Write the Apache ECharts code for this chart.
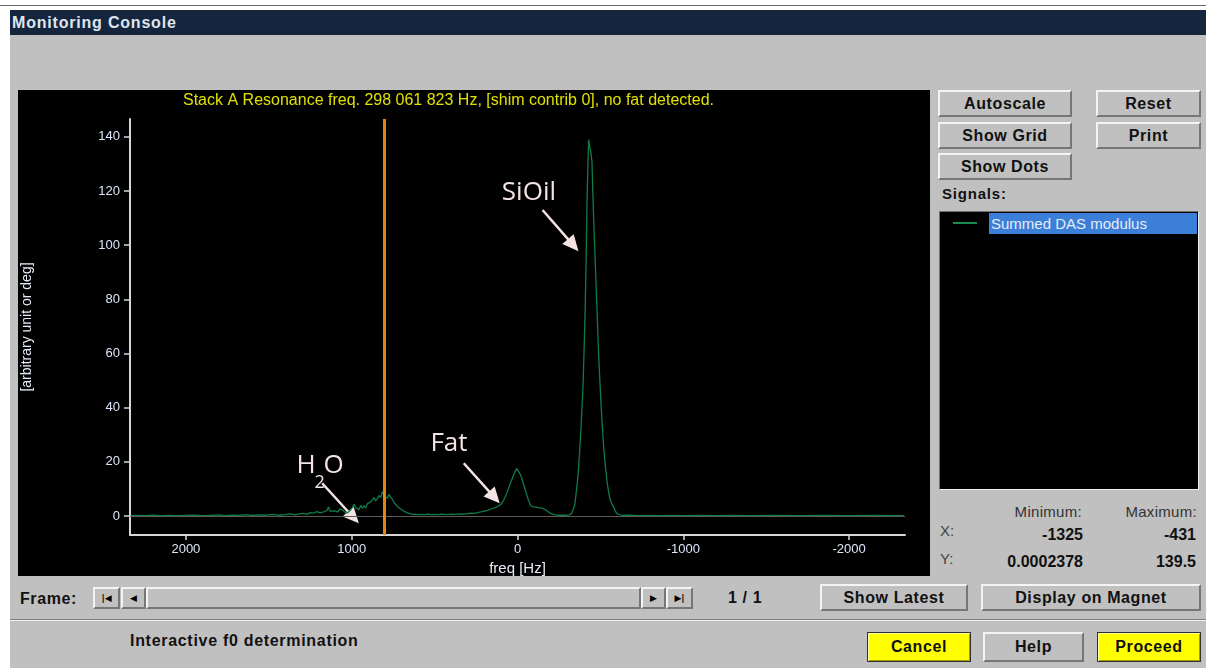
<!DOCTYPE html>
<html><head><meta charset="utf-8">
<script src="https://cdn.jsdelivr.net/npm/echarts@6/dist/echarts.min.js"></script>
<style>
html,body{margin:0;padding:0;}
body{width:1206px;height:668px;position:relative;overflow:hidden;background:#fff;font-family:"Liberation Sans",Arial,sans-serif;}
.abs{position:absolute;}
.btn{position:absolute;box-sizing:border-box;background:#c0c0c0;border:2px solid;border-color:#f4f4f4 #767676 #767676 #f4f4f4;font-weight:bold;font-size:16px;color:#111;letter-spacing:0.6px;display:flex;align-items:center;justify-content:center;}
.yellow{background:#ffff00;border:1px solid #303030;box-shadow:inset 1px 1px 0 #ffffa0, inset -1px -1px 0 #a0a000;}
.lbl{position:absolute;font-size:15px;color:#111;white-space:nowrap;}
.sb{position:absolute;top:587px;height:22px;box-sizing:border-box;background:#c0c0c0;border:2px solid;border-color:#f4f4f4 #767676 #767676 #f4f4f4;font-size:9px;color:#000;display:flex;align-items:center;justify-content:center;font-family:"DejaVu Sans",sans-serif;}
</style></head>
<body>
<div class="abs" style="left:0;top:5px;width:1206px;height:1px;background:#6a6a6a"></div>
<div class="abs" style="left:10px;top:10px;width:1196px;height:25px;background:#15253e;color:#dfe5ee;font-weight:bold;font-size:16px;line-height:25px;letter-spacing:0.8px;"><span style="margin-left:2px">Monitoring Console</span></div>
<div class="abs" style="left:10px;top:35px;width:1196px;height:633px;background:#c0c0c0"></div>

<div id="plot" class="abs" style="left:18px;top:90px;width:912px;height:486px;background:#000"></div>

<div class="btn" style="left:938px;top:90px;width:134px;height:27px">Autoscale</div>
<div class="btn" style="left:1096px;top:90px;width:105px;height:27px">Reset</div>
<div class="btn" style="left:938px;top:122px;width:134px;height:27px">Show Grid</div>
<div class="btn" style="left:1096px;top:122px;width:105px;height:27px">Print</div>
<div class="btn" style="left:938px;top:153px;width:134px;height:27px">Show Dots</div>
<div class="lbl" style="left:942px;top:185px;font-weight:bold;letter-spacing:0.8px">Signals:</div>
<div class="abs" style="left:939px;top:211px;width:260px;height:279px;background:#000;box-sizing:border-box;border:1px solid;border-color:#707070 #f0f0f0 #f0f0f0 #707070"></div>
<div class="abs" style="left:953px;top:222px;width:24px;height:2px;background:#198c52"></div>
<div class="abs" style="left:989px;top:213px;width:208px;height:21px;background:#3b7fd9;color:#e6ecf8;font-size:15px;line-height:21px;padding-left:2px;box-sizing:border-box;white-space:nowrap">Summed DAS modulus</div>

<div class="lbl" style="left:1000px;top:503px;width:82px;text-align:right;color:#333;letter-spacing:0.3px">Minimum:</div>
<div class="lbl" style="left:1110px;top:503px;width:87px;text-align:right;color:#333;letter-spacing:0.3px">Maximum:</div>
<div class="lbl" style="left:940px;top:522px;color:#444">X:</div>
<div class="lbl" style="left:1000px;top:526px;width:83px;text-align:right;font-weight:bold;font-size:16px">-1325</div>
<div class="lbl" style="left:1110px;top:526px;width:86px;text-align:right;font-weight:bold;font-size:16px">-431</div>
<div class="lbl" style="left:940px;top:550px;color:#444">Y:</div>
<div class="lbl" style="left:980px;top:553px;width:103px;text-align:right;font-weight:bold;font-size:16px">0.0002378</div>
<div class="lbl" style="left:1110px;top:553px;width:86px;text-align:right;font-weight:bold;font-size:16px">139.5</div>

<div class="lbl" style="left:20px;top:590px;font-weight:bold;font-size:16px;letter-spacing:0.6px">Frame:</div>
<div class="sb" style="left:93px;width:27px"><b>|</b>&#9664;</div>
<div class="sb" style="left:121px;width:25px">&#9664;</div>
<div class="sb" style="left:146px;width:495px"></div>
<div class="sb" style="left:641px;width:25px">&#9654;</div>
<div class="sb" style="left:666px;width:27px">&#9654;<b>|</b></div>
<div class="lbl" style="left:728px;top:589px;font-weight:bold;font-size:16px;letter-spacing:0.6px">1 / 1</div>
<div class="btn" style="left:820px;top:584px;width:148px;height:27px">Show Latest</div>
<div class="btn" style="left:981px;top:584px;width:220px;height:27px">Display on Magnet</div>

<div class="abs" style="left:10px;top:619px;width:1196px;height:1px;background:#808080"></div>
<div class="abs" style="left:10px;top:620px;width:1196px;height:1px;background:#f0f0f0"></div>
<div class="lbl" style="left:130px;top:632px;font-weight:bold;font-size:16px;letter-spacing:0.7px">Interactive f0 determination</div>
<div class="btn yellow" style="left:867px;top:632px;width:104px;height:30px">Cancel</div>
<div class="btn" style="left:983px;top:632px;width:101px;height:30px">Help</div>
<div class="btn yellow" style="left:1097px;top:632px;width:104px;height:30px">Proceed</div>

<script>
// ---- data ----
const freqHz = [
  2330,2280,2240,2200,2150,2100,2050,2000,1950,1900,
  1850,1800,1760,1720,1680,1640,1600,1560,1520,1480,
  1440,1400,1370,1340,1310,1290,1270,1250,1230,1210,
  1190,1170,1150,1140,1130,1120,1100,1085,1070,1055,
  1040,1025,1010,995,985,975,965,955,945,935,
  925,915,905,895,885,875,865,855,845,835,
  825,815,805,795,785,775,765,755,745,735,
  725,715,705,695,680,665,650,635,620,600,
  580,560,540,520,500,480,460,440,420,400,
  380,360,340,320,300,280,260,240,220,200,
  180,160,140,120,100,80,60,40,20,5,
  -5,-20,-35,-50,-65,-80,-95,-110,-125,-140,
  -155,-170,-185,-200,-215,-230,-250,-270,-290,-310,
  -325,-335,-345,-355,-365,-375,-385,-395,-402,-409,
  -414,-419,-424,-429,-432,-437,-443,-449,-455,-462,
  -469,-479,-489,-499,-509,-519,-529,-539,-549,-559,
  -569,-579,-589,-599,-609,-630,-670,-720,-780,-850,
  -920,-1000,-1100,-1200,-1300,-1400,-1550,-1700,-1850,-2000,
  -2150,-2330
];
const amplitude = [
  0.1,0.2,0.1,0.3,0.1,0.2,0.1,0.2,0.3,0.1,
  0.2,0.4,0.1,0.3,0.2,0.5,0.2,0.4,0.3,0.6,
  0.3,0.5,0.8,0.4,0.9,1.0,0.6,1.3,1.1,1.6,
  1.2,1.5,2.0,3.3,1.8,1.2,1.9,1.5,2.6,2.2,
  1.4,1.2,2.0,3.2,4.4,3.0,3.4,2.4,4.0,2.8,
  3.8,3.0,4.6,4.2,5.2,4.6,6.8,5.6,6.4,7.6,
  6.8,9.0,7.6,8.2,6.6,8.0,7.0,6.2,5.0,4.4,
  3.6,3.0,2.6,2.0,1.6,1.2,0.9,0.6,0.7,0.5,
  0.6,0.5,0.7,0.5,0.6,0.5,0.7,0.6,0.5,0.7,
  0.6,0.7,0.8,0.7,0.9,1.1,1.0,1.3,1.5,1.8,
  2.1,2.6,3.0,3.5,4.3,6.2,9.2,12.6,15.6,17.6,
  17.2,15.0,12.0,9.0,6.0,3.8,3.4,3.3,3.1,3.0,
  2.7,2.3,1.6,1.0,0.6,0.4,0.3,0.3,0.3,0.4,
  0.8,1.5,4.0,9.0,15.0,24.0,35.0,47.8,62.0,78.7,
  95.0,115.6,128.0,138.9,139.5,136.0,134.0,131.0,118.0,105.0,
  93.5,77.0,60.0,47.0,35.5,26.0,19.0,13.3,9.0,6.0,
  4.5,3.4,2.0,0.9,0.3,0.2,0.3,0.1,0.2,0.1,
  0.2,0.1,0.2,0.1,0.2,0.1,0.2,0.1,0.2,0.1,
  0.2,0.1
];
const xTicks = [2000, 1000, 0, -1000, -2000];
const yTicks = [0, 20, 40, 60, 80, 100, 120, 140];
const markerFreq = 805;
const titleText = 'Stack A Resonance freq. 298 061 823 Hz, [shim contrib 0], no fat detected.';
const xName = 'freq [Hz]';
const yName = '[arbitrary unit or deg]';

// annotation anchors (data space)
const notes = [
  {label: 'SiOil', at: [-69, 119.6], tail: [-151, 113], tip: [-368, 97.8]},
  {label: 'Fat',   at: [413, 26.6],  tail: [324, 19.5], tip: [107, 4.7]},
  {label: 'H2O',   at: [1333, 18.8], tail: [1178, 12.1], tip: [957, -2.7]}
];

const seriesData = freqHz.map((f, i) => [f, amplitude[i]]);
const axisCol = '#d6d6d6';
const labCol = '#dce6f8';
const chart = echarts.init(document.getElementById('plot'));
chart.setOption({
  backgroundColor: '#000',
  animation: false,
  title: {text: titleText, left: 165, top: 3, padding: 0,
    textStyle: {color: '#e0e000', fontSize: 16, fontWeight: 'normal', fontFamily: 'Liberation Sans, Arial'}},
  grid: {left: 112, top: 29, width: 775, height: 416, containLabel: false, outerBoundsMode: 'none'},
  xAxis: {
    type: 'value', inverse: true, min: -2337, max: 2337,
    name: xName, nameLocation: 'middle', nameGap: 24,
    nameTextStyle: {color: '#e6ecf6', fontSize: 15, fontFamily: 'Liberation Sans, Arial'},
    axisLine: {onZero: false, lineStyle: {color: axisCol, width: 2}},
    axisTick: {show: true, length: 5, customValues: xTicks, lineStyle: {color: axisCol, width: 1.5}},
    axisLabel: {customValues: xTicks, color: labCol, fontSize: 13, margin: 8, fontFamily: 'Liberation Sans, Arial',
      formatter: v => String(v)},
    splitLine: {show: false}
  },
  yAxis: {
    type: 'value', min: -7, max: 146.6,
    name: yName, nameLocation: 'middle', nameGap: 96,
    nameTextStyle: {color: '#e6ecf6', fontSize: 14, fontFamily: 'Liberation Sans, Arial'},
    axisLine: {show: true, onZero: false, lineStyle: {color: axisCol, width: 2}},
    axisTick: {show: true, length: 6, customValues: yTicks, lineStyle: {color: axisCol, width: 1.5}},
    axisLabel: {customValues: yTicks, color: labCol, fontSize: 13, margin: 10, fontFamily: 'Liberation Sans, Arial',
      formatter: v => String(v)},
    splitLine: {show: false}
  },
  series: [{
    type: 'line', data: seriesData, showSymbol: false, silent: true,
    lineStyle: {color: '#0e7c48', width: 1.3},
    markLine: {
      silent: true, symbol: 'none', label: {show: false}, animation: false,
      data: [
        {yAxis: 0, lineStyle: {color: '#5c5c5c', width: 1, type: 'solid'}},
        {xAxis: markerFreq, lineStyle: {color: '#e5870e', width: 3, type: 'solid'}}
      ]
    }
  }]
});

// annotations placed via the chart's own coordinate conversion
const annCol = '#f3e3e3';
const annFont = 'Open Sans, DejaVu Sans, sans-serif';
const g = [];
const px = p => chart.convertToPixel({gridIndex: 0}, p);
notes.forEach(n => {
  const a = px(n.at), t = px(n.tail), h = px(n.tip);
  if (n.label === 'H2O') {
    g.push({type: 'text', x: a[0], y: a[1], style: {text: 'H', fill: annCol, fontSize: 26, fontFamily: annFont, align: 'left', verticalAlign: 'middle'}});
    g.push({type: 'text', x: a[0] + 18, y: a[1] + 18, style: {text: '2', fill: annCol, fontSize: 18, fontFamily: annFont, align: 'left', verticalAlign: 'middle'}});
    g.push({type: 'text', x: a[0] + 27, y: a[1], style: {text: 'O', fill: annCol, fontSize: 26, fontFamily: annFont, align: 'left', verticalAlign: 'middle'}});
  } else {
    g.push({type: 'text', x: a[0], y: a[1], style: {text: n.label, fill: annCol, fontSize: 26, fontFamily: annFont, align: 'center', verticalAlign: 'middle'}});
  }
  const dx = h[0] - t[0], dy = h[1] - t[1], L = Math.hypot(dx, dy);
  const ux = dx / L, uy = dy / L, hl = 16, hw = 7.5;
  const bx = h[0] - ux * hl, by = h[1] - uy * hl;
  g.push({type: 'line', shape: {x1: t[0], y1: t[1], x2: bx + ux * 2, y2: by + uy * 2}, style: {stroke: annCol, lineWidth: 2.5}});
  g.push({type: 'polygon', shape: {points: [[h[0], h[1]], [bx - uy * hw, by + ux * hw], [bx + uy * hw, by - ux * hw]]}, style: {fill: annCol}});
});
chart.setOption({graphic: g});
</script>
</body></html>
